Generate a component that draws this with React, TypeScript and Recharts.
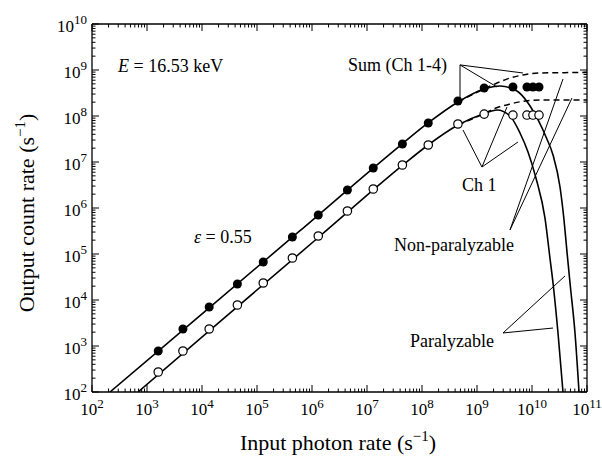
import React from "react";
import { ComposedChart, Line, Scatter, XAxis, YAxis } from "recharts";

const FONT = '"Liberation Serif", "Times New Roman", serif';

// measured points: input photon rate (s^-1)
const inputRate = [1.6e3, 4.5e3, 1.35e4, 4.4e4, 1.3e5, 4.4e5, 1.3e6, 4.4e6, 1.3e7, 4.4e7, 1.3e8, 4.5e8, 1.35e9, 4.5e9, 8.1e9, 1.04e10, 1.34e10];
// output count rate, sum of Ch 1-4 (filled) and Ch 1 (open)
const sumRate = [780, 2.34e3, 7.05e3, 2.23e4, 6.7e4, 2.34e5, 7.05e5, 2.46e6, 7.41e6, 2.46e7, 7.05e7, 2.12e8, 4.06e8, 4.27e8, 4.27e8, 4.27e8, 4.27e8];
const ch1Rate = [272, 778, 2.34e3, 7.78e3, 2.34e4, 8.18e4, 2.46e5, 8.61e5, 2.59e6, 8.61e6, 2.34e7, 6.7e7, 1.1e8, 1.05e8, 1.05e8, 1.05e8, 1.05e8];

// model curves
const sumParX = [212, 9.2e3, 6.05e5, 4.33e7, 1.29e8, 4.52e8, 1.34e9, 2.62e9, 5.33e9, 8.46e9, 1.29e10, 1.8e10, 2.41e10, 3.23e10, 3.82e10, 4.33e10, 4.91e10, 6.05e10, 7.16e10];
const sumParY = [100, 4.58e3, 3.21e5, 2.46e7, 7.05e7, 2.02e8, 3.86e8, 4.49e8, 3.49e8, 1.92e8, 8.19e7, 3.49e7, 1.42e7, 2.86e6, 5.48e5, 1.1e5, 2.34e4, 1.92e3, 100];
const ch1ParX = [686, 2.12e4, 1.4e6, 4.52e7, 1.29e8, 4.52e8, 1.29e9, 2.31e9, 3.98e9, 6.05e9, 8.46e9, 1.18e10, 1.72e10, 2.12e10, 2.41e10, 2.97e10, 3.66e10];
const ch1ParY = [100, 3.37e3, 2.46e5, 8.61e6, 2.34e7, 6.37e7, 1.1e8, 1.35e8, 1.0e8, 4.27e7, 1.65e7, 4.49e6, 6.07e5, 8.18e4, 2.34e4, 1.92e3, 100];
const sumNonParX = [4.52e8, 1.34e9, 2.31e9, 3.98e9, 6.86e9, 1.4e10, 1e11];
const sumNonParY = [2.02e8, 3.86e8, 5.21e8, 6.7e8, 7.78e8, 8.61e8, 8.83e8];
const ch1NonParX = [4.52e8, 1.29e9, 2.21e9, 3.98e9, 7.46e9, 1.4e10, 1e11];
const ch1NonParY = [6.37e7, 1.1e8, 1.49e8, 1.82e8, 2.12e8, 2.23e8, 2.23e8];

// leader lines from the labels to the curves, [x, y] in data units
const leaders = [
  [[4.91e8, 2.34e8], [4.91e8, 1.29e9], [2.31e9, 4.27e8]],
  [[4.91e8, 1.29e9], [6.86e9, 8.61e8]],
  [[5.56e8, 4.97e7], [1.23e9, 7.78e6], [3.51e9, 1.57e8]],
  [[1.23e9, 7.78e6], [5.56e9, 2.72e7]],
  [[3.66e10, 6.37e8], [3.98e9, 3.33e5], [5.33e10, 2.46e8]],
  [[3.98e10, 3.33e4], [2.97e9, 1.92e3], [2.41e10, 2.46e3]],
];

const xDecades = [1e2, 1e3, 1e4, 1e5, 1e6, 1e7, 1e8, 1e9, 1e10, 1e11];
const yDecades = [1e2, 1e3, 1e4, 1e5, 1e6, 1e7, 1e8, 1e9, 1e10];
const minorSteps = [2, 3, 4, 5, 6, 7, 8, 9];

const withMinor = (ds: number[]) =>
  ds.flatMap((d, i) => (i === ds.length - 1 ? [d] : [d, ...minorSteps.map((m) => d * m)]));
const xTicks = withMinor(xDecades);
const yTicks = withMinor(yDecades);

const zip = (xs: number[], ys: number[]) => xs.map((x, i) => ({ x, y: ys[i] }));
const pairs = (ps: number[][]) => ps.map(([x, y]) => ({ x, y }));

const sumPoints = zip(inputRate, sumRate);
const ch1Points = zip(inputRate, ch1Rate);

function Tick(props: any) {
  const { x, y, payload, side } = props;
  const v = payload.value as number;
  const e = Math.log10(v);
  const n = Math.round(e);
  const major = Math.abs(e - n) < 1e-6;
  const len = major ? 7 : 3.5;
  let l = { x1: x, y1: y, x2: x, y2: y - len };
  if (side === "top") l = { x1: x, y1: y, x2: x, y2: y + len };
  if (side === "left") l = { x1: x, y1: y, x2: x + len, y2: y };
  if (side === "right") l = { x1: x, y1: y, x2: x - len, y2: y };
  return (
    <g>
      <line {...l} stroke="#000" strokeWidth={1} />
      {major && side === "bottom" && (
        <text x={x} y={y + 23} textAnchor="middle" fontFamily={FONT} fontSize={17} fill="#000">
          10<tspan dy={-7} fontSize={13}>{n}</tspan>
        </text>
      )}
      {major && side === "left" && (
        <text x={x - 5} y={y + 8} textAnchor="end" fontFamily={FONT} fontSize={17} fill="#000">
          10<tspan dy={-8} fontSize={13}>{n}</tspan>
        </text>
      )}
    </g>
  );
}

const axisLine = { stroke: "#000", strokeWidth: 1.3 };

export default function App() {
  return (
    <div style={{ position: "absolute", left: 0, top: 0, width: 602, height: 457, background: "#fff" }}>
      <ComposedChart width={602} height={457} margin={{ top: 24, right: 15, bottom: 35, left: 62 }}>
        <XAxis
          xAxisId="b"
          dataKey="x"
          type="number"
          scale="log"
          domain={[1e2, 1e11]}
          allowDataOverflow
          ticks={xTicks}
          interval={0}
          height={30}
          tickSize={0}
          tickMargin={0}
          tickLine={false}
          axisLine={axisLine}
          tick={(p: any) => <Tick {...p} side="bottom" />}
        />
        <XAxis
          xAxisId="t"
          orientation="top"
          mirror
          dataKey="x"
          type="number"
          scale="log"
          domain={[1e2, 1e11]}
          allowDataOverflow
          ticks={xTicks}
          interval={0}
          tickSize={0}
          tickMargin={0}
          tickLine={false}
          axisLine={axisLine}
          tick={(p: any) => <Tick {...p} side="top" />}
        />
        <YAxis
          yAxisId="l"
          dataKey="y"
          type="number"
          scale="log"
          domain={[1e2, 1e10]}
          allowDataOverflow
          ticks={yTicks}
          interval={0}
          width={30}
          tickSize={0}
          tickMargin={0}
          tickLine={false}
          axisLine={axisLine}
          tick={(p: any) => <Tick {...p} side="left" />}
        />
        <YAxis
          yAxisId="r"
          orientation="right"
          mirror
          dataKey="y"
          type="number"
          scale="log"
          domain={[1e2, 1e10]}
          allowDataOverflow
          ticks={yTicks}
          interval={0}
          tickSize={0}
          tickMargin={0}
          tickLine={false}
          axisLine={axisLine}
          tick={(p: any) => <Tick {...p} side="right" />}
        />

        {leaders.map((seg, i) => (
          <Line
            key={"ld" + i}
            xAxisId="b"
            yAxisId="l"
            data={pairs(seg)}
            dataKey="y"
            type="linear"
            stroke="#000"
            strokeWidth={1}
            dot={false}
            activeDot={false}
            isAnimationActive={false}
          />
        ))}

        <Line xAxisId="b" yAxisId="l" data={zip(sumNonParX, sumNonParY)} dataKey="y" type="monotone"
          stroke="#000" strokeWidth={1.5} strokeDasharray="6 4" dot={false} activeDot={false} isAnimationActive={false} />
        <Line xAxisId="b" yAxisId="l" data={zip(ch1NonParX, ch1NonParY)} dataKey="y" type="monotone"
          stroke="#000" strokeWidth={1.5} strokeDasharray="6 4" dot={false} activeDot={false} isAnimationActive={false} />
        <Line xAxisId="b" yAxisId="l" data={zip(sumParX, sumParY)} dataKey="y" type="monotone"
          stroke="#000" strokeWidth={1.6} dot={false} activeDot={false} isAnimationActive={false} />
        <Line xAxisId="b" yAxisId="l" data={zip(ch1ParX, ch1ParY)} dataKey="y" type="monotone"
          stroke="#000" strokeWidth={1.6} dot={false} activeDot={false} isAnimationActive={false} />

        <Scatter xAxisId="b" yAxisId="l" data={sumPoints} dataKey="y" isAnimationActive={false}
          shape={(p: any) => <circle cx={p.cx} cy={p.cy} r={4.5} fill="#000" />} />
        <Scatter xAxisId="b" yAxisId="l" data={ch1Points} dataKey="y" isAnimationActive={false}
          shape={(p: any) => <circle cx={p.cx} cy={p.cy} r={4.2} fill="#fff" stroke="#000" strokeWidth={1.2} />} />
      </ComposedChart>

      <svg width={602} height={457} style={{ position: "absolute", left: 0, top: 0, pointerEvents: "none" }}
        fontFamily={FONT} fill="#000">
        <text x={118} y={72} fontSize={18}>
          <tspan fontStyle="italic">E</tspan> = 16.53 keV
        </text>
        <text x={194} y={243} fontSize={18}>
          <tspan fontStyle="italic">ε</tspan> = 0.55
        </text>
        <text x={348} y={71} fontSize={18}>Sum (Ch 1-4)</text>
        <text x={462} y={191} fontSize={18}>Ch 1</text>
        <text x={394} y={251} fontSize={18}>Non-paralyzable</text>
        <text x={410} y={347} fontSize={18}>Paralyzable</text>
        <text x={338} y={450} fontSize={22} textAnchor="middle">
          Input photon rate (s<tspan dy={-9} fontSize={15}>−1</tspan><tspan dy={9}>)</tspan>
        </text>
        <text transform="translate(34,213) rotate(-90)" fontSize={22} textAnchor="middle">
          Output count rate (s<tspan dy={-9} fontSize={15}>−1</tspan><tspan dy={9}>)</tspan>
        </text>
      </svg>
    </div>
  );
}
